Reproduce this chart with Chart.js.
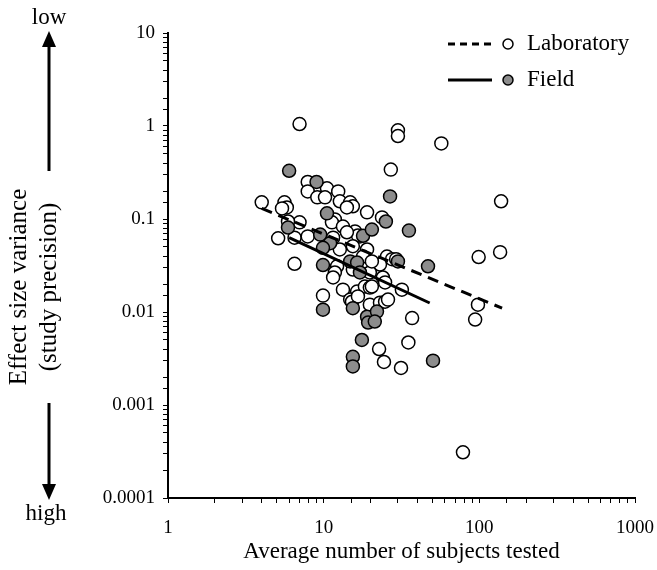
<!DOCTYPE html>
<html>
<head>
<meta charset="utf-8">
<script src="https://cdn.jsdelivr.net/npm/chart.js@4.4.0/dist/chart.umd.min.js"></script>
<style>
html, body { margin: 0; padding: 0; background: #fff; }
</style>
</head>
<body>
<canvas id="varianceChart" width="657" height="570"></canvas>
<script>
// values: average subjects tested (x) vs effect size variance (y)
var labX = [7.0, 30, 30, 57, 27, 138, 136, 99, 98, 94, 37, 35, 22.7, 24.4, 31.4, 31.8, 78.5,
    7.9, 10.5, 12.4, 7.9, 9.1, 10.2, 12.7, 14.8, 15.4, 14.1, 19.0, 4.0, 5.6, 5.8, 5.4,
    11.8, 11.3, 13.3, 7.0, 5.1, 6.5, 11.5, 17.1, 23.7, 15.9, 16.6, 7.9, 6.5, 12.7, 12.2,
    11.8, 11.5, 15.4, 13.3, 16.4, 14.8, 18.4, 9.9, 15.2, 19.8, 23.0, 24.8, 19.0, 17.9,
    25.5, 23.0, 19.8, 24.0, 24.8, 19.8, 14.1, 15.4, 20.4, 27.5, 16.6, 25.9, 5.9, 29.2, 20.4];
var labY = [1.05, 0.90, 0.78, 0.65, 0.34, 0.155, 0.044, 0.039, 0.012, 0.0083, 0.0086, 0.0047, 0.0040, 0.0029, 0.0025, 0.0174, 0.00031,
    0.25, 0.214, 0.198, 0.198, 0.171, 0.171, 0.155, 0.151, 0.137, 0.133, 0.118, 0.151, 0.151, 0.133, 0.130,
    0.099, 0.092, 0.083, 0.092, 0.062, 0.063, 0.063, 0.065, 0.104, 0.0735, 0.0665, 0.065, 0.033, 0.047, 0.031,
    0.0266, 0.0235, 0.0286, 0.0174, 0.0166, 0.0136, 0.0188, 0.0150, 0.0129, 0.012, 0.0126, 0.0129, 0.047, 0.0395,
    0.0395, 0.0324, 0.0266, 0.0235, 0.0208, 0.0183, 0.072, 0.051, 0.035, 0.037, 0.0147, 0.0136, 0.094, 0.037, 0.0188];

var fieldX = [6.0, 9.0, 10.5, 5.9, 9.5, 17.9, 26.7, 25.1, 35.3, 20.4, 11.0, 9.9, 9.9, 14.8,
    16.4, 17.1, 30, 46.8, 9.9, 15.4, 19.0, 22.0, 19.3, 21.3, 17.6, 15.4, 15.4, 50.4];
var fieldY = [0.33, 0.25, 0.115, 0.081, 0.068, 0.066, 0.175, 0.094, 0.075, 0.077, 0.055, 0.049, 0.032, 0.035,
    0.034, 0.0266, 0.035, 0.031, 0.0106, 0.011, 0.0089, 0.0101, 0.0077, 0.0079, 0.0050, 0.0033, 0.0026, 0.0030];

// end points of the two fitted trend lines
var labFitX = [4, 140];
var labFitY = [0.13, 0.011];
var fieldFitX = [6, 48];
var fieldFitY = [0.063, 0.0125];

var xTicks = [1, 10, 100, 1000];
var yTicks = [0.0001, 0.001, 0.01, 0.1, 1, 10];

var serif = '"Liberation Serif", "Times New Roman", serif';

function toPoints(xs, ys) {
    return xs.map(function (x, i) { return { x: x, y: ys[i] }; });
}

function isMajor(v, list) {
    for (var i = 0; i < list.length; i++) {
        if (Math.abs(v / list[i] - 1) < 1e-6) return list[i];
    }
    return null;
}

// MARK: y axis label with arrows, and the legend
var decorations = {
    id: 'decorations',
    afterDraw: function (chart) {
        var ctx = chart.ctx;
        var area = chart.chartArea;
        ctx.save();
        ctx.fillStyle = '#000';
        ctx.strokeStyle = '#000';
        ctx.font = '23px ' + serif;
        ctx.textAlign = 'center';
        ctx.textBaseline = 'middle';

        var ax = 49;
        ctx.fillText('low', ax, 18);
        ctx.fillText('high', ax - 3, 514);

        var midY = 287;
        var gap = 116;
        ctx.lineWidth = 3;
        ctx.beginPath();
        ctx.moveTo(ax, area.top + 12);
        ctx.lineTo(ax, midY - gap);
        ctx.moveTo(ax, midY + gap);
        ctx.lineTo(ax, area.bottom - 12);
        ctx.stroke();
        ctx.beginPath();
        ctx.moveTo(ax, area.top - 2);
        ctx.lineTo(ax - 7, area.top + 14);
        ctx.lineTo(ax + 7, area.top + 14);
        ctx.closePath();
        ctx.fill();
        ctx.beginPath();
        ctx.moveTo(ax, area.bottom + 2);
        ctx.lineTo(ax - 7, area.bottom - 14);
        ctx.lineTo(ax + 7, area.bottom - 14);
        ctx.closePath();
        ctx.fill();

        ctx.save();
        ctx.translate(0, midY);
        ctx.rotate(-Math.PI / 2);
        ctx.font = '25px ' + serif;
        ctx.fillText('Effect size variance', 0, 19);
        ctx.fillText('(study precision)', 0, 49);
        ctx.restore();

        // legend
        var rows = [
            { y: 44, dash: [7, 5], fill: '#fff', text: 'Laboratory' },
            { y: 80, dash: [], fill: '#8c8c8c', text: 'Field' }
        ];
        rows.forEach(function (r) {
            ctx.lineWidth = 3;
            ctx.setLineDash(r.dash);
            ctx.beginPath();
            ctx.moveTo(448, r.y);
            ctx.lineTo(492, r.y);
            ctx.stroke();
            ctx.setLineDash([]);
            ctx.lineWidth = 1.5;
            ctx.beginPath();
            ctx.arc(508, r.y, 5, 0, Math.PI * 2);
            ctx.fillStyle = r.fill;
            ctx.fill();
            ctx.stroke();
            ctx.fillStyle = '#000';
            ctx.textAlign = 'left';
            ctx.fillText(r.text, 527, r.y);
        });
        ctx.restore();
    }
};

var ctx = document.getElementById('varianceChart');
var chart = new Chart(ctx, {
    type: 'scatter',
    data: {
        datasets: [{
            type: 'line',
            label: 'Laboratory fit',
            data: toPoints(labFitX, labFitY),
            borderColor: '#000',
            borderWidth: 3,
            borderDash: [11, 7],
            pointRadius: 0,
            fill: false,
            order: 0
        }, {
            type: 'line',
            label: 'Field fit',
            data: toPoints(fieldFitX, fieldFitY),
            borderColor: '#000',
            borderWidth: 3,
            pointRadius: 0,
            fill: false,
            order: 0
        }, {
            label: 'Field',
            data: toPoints(fieldX, fieldY),
            pointRadius: 6.5,
            pointBorderWidth: 1.5,
            borderColor: '#000',
            backgroundColor: '#8c8c8c',
            order: 1
        }, {
            label: 'Laboratory',
            data: toPoints(labX, labY),
            pointRadius: 6.5,
            pointBorderWidth: 1.5,
            borderColor: '#000',
            backgroundColor: '#fff',
            order: 2
        }]
    },
    options: {
        responsive: false,
        animation: false,
        devicePixelRatio: 1,
        layout: { padding: { top: 33, right: 22, left: 0, bottom: 0 } },
        plugins: {
            legend: { display: false },
            tooltip: { enabled: false }
        },
        scales: {
            x: {
                type: 'logarithmic',
                min: 1,
                max: 1000,
                border: { display: true, color: '#000', width: 2 },
                grid: { drawOnChartArea: false, drawTicks: true, tickLength: 5, color: '#000', lineWidth: 1 },
                ticks: {
                    autoSkip: false,
                    maxRotation: 0,
                    color: '#000',
                    padding: 14,
                    font: { family: serif, size: 19 },
                    callback: function (v) {
                        var m = isMajor(v, xTicks);
                        return m === null ? '' : String(m);
                    }
                },
                title: {
                    display: true,
                    text: 'Average number of subjects tested',
                    color: '#000',
                    font: { family: serif, size: 23 },
                    padding: { top: 0, bottom: 4 }
                },
                afterFit: function (s) {
                    s.height = 72;
                    // tick padding would otherwise widen the right margin
                    s.paddingRight = 22;
                }
            },
            y: {
                type: 'logarithmic',
                min: 0.0001,
                max: 10,
                border: { display: true, color: '#000', width: 2 },
                grid: { drawOnChartArea: false, drawTicks: true, tickLength: 5, color: '#000', lineWidth: 1 },
                ticks: {
                    autoSkip: false,
                    color: '#000',
                    padding: 8,
                    font: { family: serif, size: 19 },
                    callback: function (v) {
                        var m = isMajor(v, yTicks);
                        return m === null ? '' : String(m);
                    }
                },
                afterFit: function (s) { s.width = 168; }
            }
        }
    },
    plugins: [decorations]
});
</script>
</body>
</html>
